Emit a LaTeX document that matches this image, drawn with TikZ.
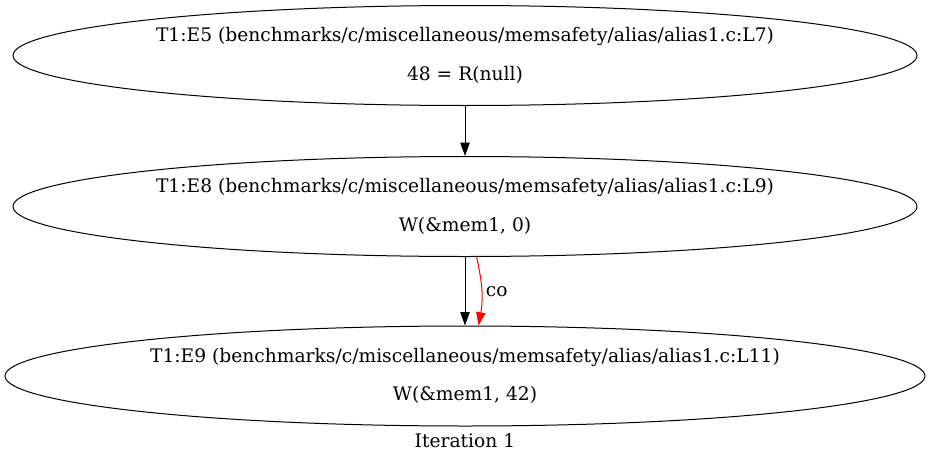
\documentclass[tikz,border=0pt]{standalone}
\usepackage{fontspec}
\setmainfont{DejaVu Serif}
\usetikzlibrary{shapes.geometric,arrows.meta}
\begin{document}
\begin{tikzpicture}[x=0.75pt,y=-0.75pt,
  ev/.style={draw,ellipse,line width=0.75pt,inner sep=0pt,align=center,
    font=\fontsize{14}{15}\selectfont,minimum height=75pt},
  edge/.style={line width=0.75pt,-{Triangle[length=10pt,width=7pt]}},
  lbl/.style={font=\fontsize{14}{15}\selectfont,inner sep=0pt}]
\useasboundingbox (0,0) rectangle (931,464);
\node[ev,minimum width=678pt] (e5) at (465,55.5) {T1:E5 (benchmarks/c/miscellaneous/memsafety/alias/alias1.c:L7)\\[14pt]48 = R(null)};
\node[ev,minimum width=678pt] (e8) at (465,206.5) {T1:E8 (benchmarks/c/miscellaneous/memsafety/alias/alias1.c:L9)\\[14pt]W(\&mem1, 0)};
\node[ev,minimum width=690pt] (e9) at (465,376) {T1:E9 (benchmarks/c/miscellaneous/memsafety/alias/alias1.c:L11)\\[14pt]W(\&mem1, 42)};
\node[lbl] (it) at (465,441) {Iteration 1};
\draw[edge] (e5) -- (e8);
\draw[edge] (e8) -- (e9);
\draw[edge,red] (e8.-77.6) .. controls +(78:25) and +(-80:30) .. (e9.75.4) node[lbl,pos=0.5,right=3pt,yshift=-2pt,black] (co) {co};
\end{tikzpicture}
\end{document}
